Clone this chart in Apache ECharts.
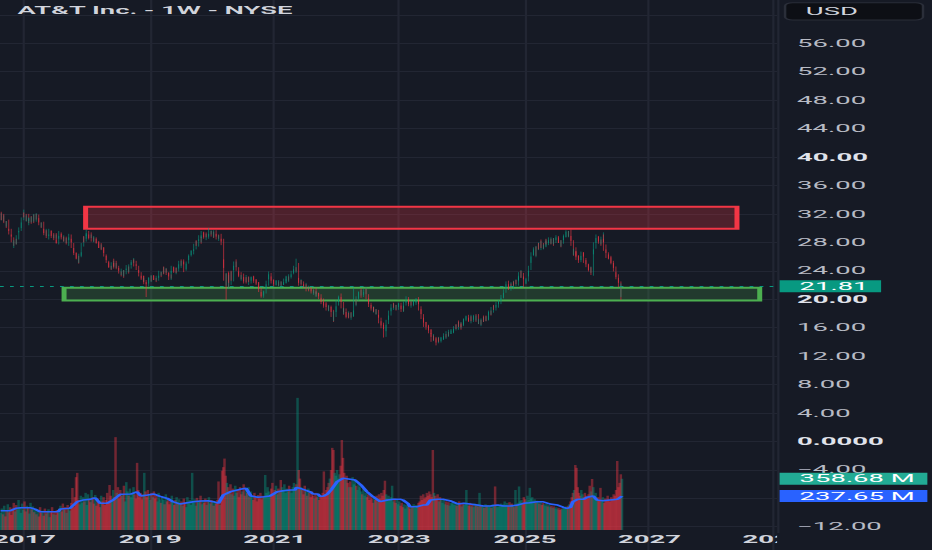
<!DOCTYPE html>
<html><head><meta charset="utf-8">
<script src="https://cdn.jsdelivr.net/npm/echarts@6.0.0/dist/echarts.min.js"></script>
<style>
html,body{margin:0;padding:0;background:#161a25;overflow:hidden;width:932px;height:550px}
#chart{width:373px;height:550px;transform:scaleX(2.49866);transform-origin:0 0}
</style></head><body><div id="chart"></div>
<script>
// ---------------- data ----------------
const chartTitle = 'AT&T Inc. - 1W - NYSE';
const firstWeek = '2016-08-15';
const weekCount = 649;
const yearTicks = ['2017', '2019', '2021', '2023', '2025', '2027', '2029'];
const priceTicks = {min: -16, max: 64, step: 4};
const boldPriceTicks = [40, 20, 0];
const hiddenPriceTicks = [64, 60, -8, -16];

const firstOpen = 31.2;
const closes = [
31.5,32.0,31.2,31.6,30.8,30.4,30.9,29.8,29.4,28.9,
28.3,27.6,28.2,27.9,28.7,29.5,29.9,30.4,31.3,32.1,
31.7,31.2,31.6,30.8,31.2,31.4,30.9,31.5,31.1,31.8,
31.3,31.8,31.0,30.7,30.2,30.6,29.7,29.2,29.6,28.7,
29.0,29.5,29.3,28.8,29.0,28.6,28.9,28.3,28.0,28.7,
29.3,29.0,28.5,28.6,28.2,28.5,27.9,28.4,29.0,28.3,
27.5,26.9,26.4,26.1,25.9,25.4,26.0,26.5,27.6,28.6,
28.2,28.9,29.2,29.4,28.8,28.7,29.0,28.5,28.3,28.6,
28.2,28.0,27.6,27.3,27.6,27.1,26.9,26.2,25.8,25.2,
24.8,24.6,24.4,24.9,25.2,24.8,24.6,25.0,24.5,24.1,
23.8,23.5,23.9,23.4,23.8,24.2,24.4,24.0,24.6,25.1,
25.3,25.5,25.0,24.8,24.4,23.9,23.4,23.1,23.0,22.7,
22.9,22.4,22.2,22.0,22.6,23.0,22.7,23.2,23.1,22.8,
22.7,23.0,23.2,23.6,23.4,23.8,24.2,23.9,24.1,23.7,
23.4,23.1,23.0,23.8,24.4,24.2,23.8,24.3,24.1,24.6,
25.2,24.8,25.3,25.1,24.1,24.6,25.2,25.8,26.1,26.4,
26.6,26.9,27.4,28.0,27.7,28.3,28.6,28.2,28.9,29.3,
29.0,28.7,29.1,28.8,29.0,29.5,29.2,29.3,28.9,29.4,
29.0,28.7,28.6,28.9,28.3,27.9,25.1,23.2,22.4,23.4,
22.0,23.1,22.6,23.5,23.0,24.4,24.9,25.1,24.2,23.6,
23.4,23.0,23.2,22.8,22.6,22.9,22.5,22.8,22.6,22.9,
23.0,22.8,22.7,22.5,22.2,22.0,21.6,21.3,20.9,20.6,
20.8,21.0,21.7,22.3,23.0,23.5,22.9,22.6,22.3,22.1,
22.4,22.4,22.1,22.3,22.0,22.2,22.3,22.5,22.6,22.9,
23.0,22.8,23.1,23.4,23.7,24.0,24.3,24.1,24.8,22.6,
22.3,22.5,22.2,22.0,21.8,21.9,21.5,21.6,21.4,21.3,
21.1,21.0,21.2,20.9,20.7,20.8,20.6,20.3,20.0,19.8,
19.4,19.2,19.1,18.9,18.7,18.8,18.5,18.0,17.5,17.9,
18.5,19.6,19.9,20.3,20.0,19.2,18.5,18.2,18.4,17.9,
17.7,17.9,17.7,17.6,17.8,18.0,19.6,19.4,20.1,20.4,
20.7,21.0,20.6,20.8,21.1,21.3,20.3,19.8,19.3,18.9,
18.7,18.5,18.6,18.4,18.2,18.2,17.6,17.0,16.6,16.3,
16.1,15.2,15.9,16.8,17.5,18.0,18.5,18.9,19.2,19.0,
18.7,18.9,19.1,19.2,18.9,18.6,18.5,18.9,19.4,19.7,
20.1,19.6,19.2,19.5,19.3,19.4,19.6,19.8,19.9,19.5,
18.8,18.2,17.6,17.0,16.6,16.4,16.1,15.8,15.6,15.4,
15.0,14.5,14.7,14.4,14.3,14.2,14.4,14.2,14.3,14.5,
14.6,14.9,14.8,15.2,15.0,15.3,15.4,15.5,15.6,15.9,
16.2,16.0,16.6,16.3,16.1,16.5,16.4,16.8,17.1,17.3,
17.5,17.2,17.0,17.4,17.1,17.3,17.6,17.2,17.5,16.8,
16.9,16.6,17.0,17.3,17.1,17.4,17.2,17.5,17.9,18.2,
18.0,18.5,18.9,18.7,19.0,19.2,19.5,19.6,20.0,20.3,
20.6,21.2,21.7,22.3,21.9,21.5,22.0,21.8,22.3,22.1,
22.5,22.3,22.7,23.0,23.4,23.8,23.3,23.0,22.3,22.5,
22.7,23.6,24.4,25.5,26.3,26.6,27.0,26.4,27.2,27.6,
27.2,28.0,27.6,27.3,27.5,27.8,28.2,27.9,28.1,28.3,
28.0,28.4,27.9,28.2,28.5,28.7,28.3,28.1,27.6,28.0,
28.6,28.9,29.1,29.3,29.0,29.4,28.6,27.8,26.6,26.9,
26.5,26.2,25.9,25.7,25.5,25.9,26.3,26.2,25.6,25.2,
24.8,24.5,24.1,24.3,23.7,26.5,27.6,28.3,28.7,28.4,
28.1,27.9,28.4,28.7,28.2,27.3,26.8,26.2,26.0,25.8,
25.5,25.2,24.8,24.2,23.6,23.1,22.7,22.0,20.6,21.81
];
// upper / lower wick length per week, in tenths of a dollar (one digit per week)
const upperWicks = [
'3132421315','2413312423','1324213142','2314123231','1423132412','3124213321','2431524132','3214231423','1324132413','2413253142',
'3142314231','2314132423','1432413213','2314213432','1342314213','2413241324','3142314213','2413231423','3241326543','5364534253',
'3424352342','2341324231','3243542324','2314231423','3241324293','4323142314','2314231342','3243243454','5342534243','3425342436',
'4352342432','3243243243','4353243423','2342324231','3243242324','3243424352','3242323232','2323242323','2324232423','2324232324',
'3232423232','2423242323','3242324232','3243232423','3435343434','3243242324','2324232423','3242324352','4353424342','3243254342',
'4342434243','3423424354'
].join('');
const lowerWicks = [
'2413142231','3142231342','2231423142','1423214231','3142231423','2314132413','3425243142','2143231423','3241324231','4132423231',
'2314231423','3241322413','2314242341','3142312423','2413231342','3142314231','2314231423','3241324132','2314237685','4536453423',
'3243423524','3243242354','4323423423','2423142324','3242323243','4234234232','3242342345','3425343546','4353453434','4342534243',
'3243243542','3242342434','3454343242','3242342323','2324232432','4343534243','3242434232','2324232324','3232423242','2324232423',
'3242323242','3242324232','2432423242','3242343232','3243424353','2342324232','3242324232','2324234354','4342434253','3424342543',
'3424253432','4343534343'
].join('');
const wickLows = [[123,20.3],[188,19.9],[219,20.2],[278,16.8],[321,14.6],[361,14.0],[365,13.5],[438,21.6],[518,19.9],[519,20.4]];
const wickHighs = [[19,32.6],[175,30.0],[248,25.5],[296,21.6],[434,23.8],[473,29.7],[503,29.4]];

// weekly volume, millions
const volumes = [
120,150,110,170,95,140,180,125,160,105,
150,190,130,175,145,210,160,120,185,140,
200,130,170,155,115,190,145,165,125,150,
110,140,95,160,120,135,100,150,115,130,
145,90,125,160,110,130,105,140,120,150,
170,130,185,140,160,120,175,150,135,190,
294,160,230,370,400,210,180,240,190,230,
200,260,175,250,210,195,280,230,185,245,
170,220,190,160,240,200,230,175,210,260,
190,315,240,210,280,230,650,260,300,220,
280,240,250,310,200,335,270,240,290,230,
260,300,250,220,470,280,230,260,215,250,
400,270,230,280,240,210,260,230,270,220,
240,200,260,215,190,230,210,180,250,200,
220,180,200,240,195,175,210,230,190,215,
180,200,170,220,195,160,230,185,210,175,
400,190,215,170,225,195,205,240,180,210,
190,220,175,200,230,185,210,195,170,200,
185,210,340,175,230,415,440,500,380,330,
300,270,320,250,290,240,310,260,280,230,
300,250,270,320,240,280,260,300,230,270,
240,210,260,225,200,245,220,260,215,240,
230,385,260,300,270,240,290,330,260,280,
310,250,290,270,350,300,280,320,260,290,
270,310,280,260,300,330,290,320,925,420,
360,300,280,250,310,270,240,290,260,230,
270,240,220,260,230,250,210,240,230,260,
410,250,280,300,330,360,420,575,560,400,
380,420,360,390,450,630,505,400,350,380,
330,300,340,300,370,320,350,310,280,330,
300,270,250,290,240,260,230,250,210,240,
220,190,230,210,240,200,250,220,260,240,
280,345,250,220,240,210,230,310,200,220,
190,210,180,200,170,190,160,180,150,175,
165,185,150,170,160,180,155,175,165,190,
200,240,210,250,220,230,260,240,270,250,
230,560,260,240,210,250,200,230,210,190,
210,180,200,175,195,170,190,185,200,175,
190,170,185,200,180,165,190,175,185,280,
180,170,190,165,175,160,185,170,180,165,
260,175,160,170,155,180,165,175,160,170,
155,180,165,305,170,160,175,165,185,170,
180,200,175,190,170,195,180,185,170,160,
280,175,190,305,200,210,190,230,215,200,
240,210,295,220,230,200,215,190,205,195,
185,200,175,190,180,170,185,165,175,160,
170,155,165,150,160,145,155,140,150,145,
160,150,165,155,170,180,200,230,260,280,
455,435,300,260,240,280,250,230,260,240,
220,250,310,270,357,300,240,260,220,230,
210,295,200,230,190,220,205,240,215,200,
230,210,250,240,280,483,300,330,390,358.68
];

// volume moving average, [week, millions]
const volumeMA = [[0,135],[8,135],[13,152],[17,156],[25,156],[29,145],[33,128],[48,128],[50,147],[58,152],[61,175],[64,198],[69,210],[75,215],[79,226],[83,187],[89,187],[94,210],[100,250],[109,252],[114,268],[117,238],[123,245],[128,252],[134,233],[139,222],[144,198],[150,182],[156,191],[161,198],[167,203],[173,205],[178,198],[182,187],[186,245],[192,268],[200,285],[205,292],[209,238],[215,229],[220,233],[225,238],[231,268],[236,275],[242,280],[246,280],[247,299],[250,292],[256,275],[259,265],[261,252],[265,252],[267,235],[270,238],[273,252],[276,280],[281,338],[286,362],[292,355],[296,350],[301,315],[306,268],[311,233],[317,198],[323,210],[328,215],[334,215],[336,210],[340,187],[342,163],[348,163],[353,175],[356,175],[359,210],[365,215],[370,215],[376,203],[382,182],[387,187],[392,182],[398,175],[403,168],[409,168],[415,175],[420,168],[426,168],[432,175],[437,187],[442,191],[448,198],[453,198],[459,182],[465,175],[470,159],[473,152],[476,159],[478,198],[482,215],[487,215],[490,229],[495,238],[498,210],[503,205],[509,210],[515,215],[519,237.65]];

// drawn zones: [startWeek, endWeek, top, bottom]
const resistanceZone = [71, 615, 33.0, 29.9];
const supportZone = [53, 634, 21.6, 19.8];

// ---------------- build ----------------
const categories = [];
(function () {
  const d0 = Date.parse(firstWeek + 'T00:00:00Z');
  for (let i = 0; i < weekCount; i++) categories.push(new Date(d0 + i * 7 * 86400000).toISOString().slice(0, 10));
})();
const isYearTick = i => i > 0 && categories[i].slice(0, 4) !== categories[i - 1].slice(0, 4) && yearTicks.includes(categories[i].slice(0, 4));

const lowMap = new Map(wickLows), highMap = new Map(wickHighs);
const opens = closes.map((c, i) => i === 0 ? firstOpen : closes[i - 1]);
const candles = closes.map((c, i) => {
  const o = opens[i];
  let hi = Math.max(o, c) + (+upperWicks[i] || 0) / 10;
  let lo = Math.min(o, c) - (+lowerWicks[i] || 0) / 10;
  if (lowMap.has(i)) lo = Math.min(lo, lowMap.get(i));
  if (highMap.has(i)) hi = Math.max(hi, highMap.get(i));
  return [o, c, +lo.toFixed(2), +hi.toFixed(2)];
});

const BG = '#161a25', GRID = '#222633';
const UP = '#089981', DOWN = '#f23645';
const VOL_UP = 'rgba(8,153,129,0.42)', VOL_DOWN = 'rgba(242,54,69,0.42)';
const FONT = 'Roboto';

const volData = volumes.map((v, i) => ({value: v, itemStyle: {color: closes[i] >= opens[i] ? VOL_UP : VOL_DOWN}}));
const lastClose = closes[closes.length - 1];
const lastVol = volumes[volumes.length - 1];
const lastMA = volumeMA[volumeMA.length - 1][1];

const tagLabel = (bg, text) => ({
  show: true, position: 'end', distance: 1, formatter: text,
  backgroundColor: bg, color: '#ffffff', fontSize: 11, fontFamily: FONT,
  lineHeight: 12, padding: [0, 5, 0, 8]
});

const chart = echarts.init(document.getElementById('chart'), null, {renderer: 'svg', width: 373, height: 550});
chart.setOption({
  backgroundColor: BG,
  animation: false,
  title: {text: chartTitle, left: 2, top: 0, textStyle: {color: '#d1d4dc', fontSize: 11, fontWeight: 600, fontFamily: FONT}},
  grid: [
    {left: 0, right: 62, top: -13.6, height: 568.7, outerBoundsMode: 'none', containLabel: false},
    {left: 0, right: 62, top: 330, height: 200, outerBoundsMode: 'none', containLabel: false}
  ],
  xAxis: [
    {type: 'category', gridIndex: 0, data: categories, boundaryGap: true,
     axisLine: {show: false}, axisTick: {show: false}, axisLabel: {show: false},
     splitLine: {show: true, interval: (i) => isYearTick(i), lineStyle: {color: GRID, width: 0.9}}},
    {type: 'category', gridIndex: 1, data: categories, boundaryGap: true,
     axisLine: {show: false}, axisTick: {show: false}, splitLine: {show: false},
     axisLabel: {show: true, interval: (i) => isYearTick(i), formatter: (v) => v.slice(0, 4), margin: 4,
       color: '#d1d4dc', fontSize: 11, fontWeight: 'bold', fontFamily: FONT}}
  ],
  yAxis: [
    {type: 'value', gridIndex: 0, position: 'right', min: priceTicks.min, max: priceTicks.max, interval: priceTicks.step,
     axisLine: {show: false}, axisTick: {show: false},
     splitLine: {show: true, lineStyle: {color: GRID, width: 1}},
     axisLabel: {margin: 8, color: '#b8bbc4', fontSize: 11, fontFamily: FONT,
       formatter: (v) => {
         if (hiddenPriceTicks.includes(v)) return '';
         let s = v === 0 ? '0.0000' : (v < 0 ? '\u2212' + Math.abs(v).toFixed(2) : v.toFixed(2));
         return boldPriceTicks.includes(v) ? '{b|' + s + '}' : s;
       },
       rich: {b: {fontWeight: 'bold', color: '#e0e3eb', fontSize: 11, fontFamily: FONT}}}},
    {type: 'value', gridIndex: 1, min: 0, max: 1400, show: false, splitLine: {show: false}}
  ],
  graphic: [
    {type: 'rect', z: 100, shape: {x: 311, y: 533, width: 62, height: 17}, style: {fill: BG}},
    {type: 'rect', z: 100, shape: {x: 314.2, y: 2.7, width: 55.2, height: 17.3, r: 3}, style: {fill: '#0d0f15', stroke: '#2a2e39', lineWidth: 1}},
    {type: 'text', z: 101, x: 322.5, y: 11.5, style: {text: 'USD', fill: '#d1d4dc', fontSize: 11, fontFamily: FONT, verticalAlign: 'middle'}}
  ],
  series: [
    {type: 'candlestick', xAxisIndex: 0, yAxisIndex: 0, data: candles, large: false, barWidth: 0.36, z: 2,
     itemStyle: {color: UP, color0: DOWN, borderColor: UP, borderColor0: DOWN, borderWidth: 0.35},
     markArea: {silent: true, data: [
       [{xAxis: categories[resistanceZone[0]], yAxis: resistanceZone[2],
         itemStyle: {color: 'rgba(242,54,69,0.25)', borderColor: '#f23645', borderWidth: 2}},
        {xAxis: categories[resistanceZone[1]], yAxis: resistanceZone[3]}],
       [{xAxis: categories[supportZone[0]], yAxis: supportZone[2],
         itemStyle: {color: 'rgba(76,175,80,0.22)', borderColor: '#4caf50', borderWidth: 2}},
        {xAxis: categories[supportZone[1]], yAxis: supportZone[3]}]
     ]},
     markLine: {silent: true, symbol: ['none', 'none'],
       lineStyle: {color: UP, type: [1.5, 2.5], width: 1},
       data: [{yAxis: lastClose, label: tagLabel(UP, lastClose.toFixed(2))}]}},
    {type: 'bar', xAxisIndex: 1, yAxisIndex: 1, data: volData, large: false, barWidth: '55%', z: 1,
     markLine: {silent: true, symbol: ['none', 'none'], lineStyle: {color: 'rgba(0,0,0,0)', width: 0},
       data: [
         {yAxis: lastVol, label: tagLabel('#22ab94', lastVol.toFixed(2) + ' M')},
         {yAxis: lastMA, label: tagLabel('#2962ff', lastMA.toFixed(2) + ' M')}
       ]}},
    {type: 'line', xAxisIndex: 1, yAxisIndex: 1, data: volumeMA, showSymbol: false, z: 3,
     lineStyle: {color: '#2962ff', width: 1.5}}
  ]
});
</script></body></html>
